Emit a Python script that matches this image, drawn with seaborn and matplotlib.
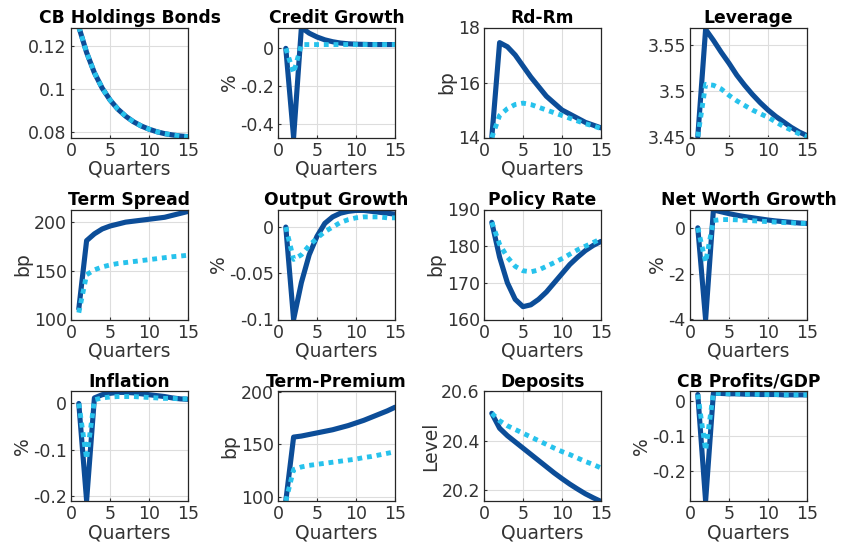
import numpy as np
import pandas as pd
import matplotlib
matplotlib.use("Agg")
import matplotlib.pyplot as plt
import seaborn as sns
from matplotlib.ticker import FuncFormatter

sns.set_style("ticks")
plt.rcParams['font.family'] = ['DejaVu Sans']
plt.rcParams['axes.unicode_minus'] = False

quarters = list(range(1, 16))

### impulse responses (solid = baseline, dotted = alternative) ###
cb_holdings_solid = [0.129, 0.117, 0.1075, 0.1003, 0.0948, 0.0905, 0.0872, 0.0846, 0.0826, 0.0811, 0.0799, 0.079, 0.0784, 0.0779, 0.0776]
cb_holdings_dotted = cb_holdings_solid

credit_solid = [0.0, -0.47, 0.11, 0.08, 0.06, 0.045, 0.035, 0.028, 0.024, 0.022, 0.021, 0.02, 0.02, 0.02, 0.02]
credit_dotted = [0.0, -0.13, 0.02, 0.02, 0.02, 0.02, 0.02, 0.02, 0.02, 0.02, 0.02, 0.02, 0.02, 0.02, 0.02]

rdrm_solid = [14.0, 17.45, 17.3, 17.0, 16.6, 16.2, 15.85, 15.5, 15.25, 15.0, 14.85, 14.7, 14.55, 14.45, 14.35]
rdrm_dotted = [14.0, 14.8, 15.05, 15.2, 15.25, 15.2, 15.1, 15.0, 14.9, 14.8, 14.7, 14.6, 14.5, 14.42, 14.33]

leverage_solid = [3.45, 3.567, 3.555, 3.542, 3.53, 3.517, 3.506, 3.496, 3.487, 3.479, 3.472, 3.466, 3.46, 3.455, 3.451]
leverage_dotted = [3.45, 3.507, 3.506, 3.502, 3.495, 3.489, 3.484, 3.479, 3.475, 3.471, 3.466, 3.461, 3.457, 3.453, 3.45]

term_spread_solid = [111, 181, 188, 193, 196, 198, 200, 201, 202, 203, 204, 205, 207, 209, 211]
term_spread_dotted = [107, 146, 151, 154, 156, 157.5, 158.5, 159.5, 160.5, 161.5, 162.5, 163.5, 164.5, 165.2, 166]

output_solid = [0.0, -0.1, -0.06, -0.03, -0.01, 0.004, 0.011, 0.015, 0.017, 0.018, 0.018, 0.017, 0.016, 0.015, 0.014]
output_dotted = [0.0, -0.035, -0.03, -0.02, -0.012, -0.005, 0.0, 0.005, 0.008, 0.01, 0.011, 0.011, 0.011, 0.01, 0.01]

policy_solid = [186.5, 177, 170, 165.5, 163.5, 164, 165.5, 167.5, 170, 172.5, 175, 177, 178.8, 180.2, 181.3]
policy_dotted = [186.5, 180.5, 177, 174.5, 173.3, 173, 173.5, 174.5, 175.5, 176.6, 177.8, 179, 180, 181, 182]

net_worth_solid = [0.0, -4.0, 0.78, 0.7, 0.62, 0.55, 0.49, 0.44, 0.39, 0.34, 0.3, 0.27, 0.24, 0.21, 0.19]
net_worth_dotted = [0.0, -1.5, 0.32, 0.36, 0.36, 0.35, 0.33, 0.31, 0.29, 0.27, 0.25, 0.23, 0.22, 0.2, 0.19]

inflation_solid = [0.0, -0.21, 0.012, 0.019, 0.022, 0.024, 0.024, 0.023, 0.021, 0.019, 0.017, 0.015, 0.012, 0.01, 0.009]
inflation_dotted = [0.0, -0.12, 0.008, 0.012, 0.014, 0.015, 0.015, 0.015, 0.014, 0.013, 0.012, 0.011, 0.011, 0.01, 0.01]

term_premium_solid = [96, 157, 158, 159.5, 161, 162.5, 164, 166, 168, 170.5, 173, 176, 179, 182, 185.5]
term_premium_dotted = [96, 126, 128.5, 130, 131, 132, 133, 134, 135, 136, 137.5, 138.5, 140, 141.5, 143]

deposits_solid = [20.51, 20.45, 20.42, 20.395, 20.37, 20.345, 20.32, 20.295, 20.27, 20.247, 20.225, 20.205, 20.186, 20.17, 20.155]
deposits_dotted = [20.51, 20.48, 20.46, 20.445, 20.43, 20.415, 20.4, 20.385, 20.37, 20.356, 20.344, 20.33, 20.316, 20.304, 20.29]

cb_profits_solid = [0.02, -0.285, 0.024, 0.023, 0.022, 0.022, 0.021, 0.021, 0.02, 0.02, 0.02, 0.019, 0.019, 0.019, 0.019]
cb_profits_dotted = [0.02, -0.14, 0.024, 0.023, 0.022, 0.022, 0.021, 0.021, 0.02, 0.02, 0.02, 0.019, 0.019, 0.019, 0.019]

titles = ['CB Holdings Bonds', 'Credit Growth', 'Rd-Rm', 'Leverage',
          'Term Spread', 'Output Growth', 'Policy Rate', 'Net Worth Growth',
          'Inflation', 'Term-Premium', 'Deposits', 'CB Profits/GDP']
ylabels = ['', '%', 'bp', '', 'bp', '%', 'bp', '%', '%', 'bp', 'Level', '%']
xlabels = ['Quarters'] * 12
xlabels[3] = ''
solids = [cb_holdings_solid, credit_solid, rdrm_solid, leverage_solid,
          term_spread_solid, output_solid, policy_solid, net_worth_solid,
          inflation_solid, term_premium_solid, deposits_solid, cb_profits_solid]
dotteds = [cb_holdings_dotted, credit_dotted, rdrm_dotted, leverage_dotted,
           term_spread_dotted, output_dotted, policy_dotted, net_worth_dotted,
           inflation_dotted, term_premium_dotted, deposits_dotted, cb_profits_dotted]
ylims = [(0.0772, 0.1287), (-0.47, 0.11), (14, 18), (3.449, 3.569),
         (100, 213), (-0.1, 0.019), (160, 190), (-4, 0.8),
         (-0.211, 0.027), (96, 201), (20.157, 20.6), (-0.285, 0.03)]
yticks = [[0.08, 0.1, 0.12], [-0.4, -0.2, 0], [14, 16, 18], [3.45, 3.5, 3.55],
          [100, 150, 200], [-0.1, -0.05, 0], [160, 170, 180, 190], [-4, -2, 0],
          [-0.2, -0.1, 0], [100, 150, 200], [20.2, 20.4, 20.6], [-0.2, -0.1, 0]]

dark = '#0c4d98'
light = '#27c2ec'

fig = plt.figure(figsize=(8.41, 5.52), dpi=100)
W, H = 841, 552
col_left = [71, 278, 484, 690]
row_bottom = [137.5, 319.5, 501]
aw, ah = 117, 110

for i in range(12):
    r, c = divmod(i, 4)
    ax = fig.add_axes([col_left[c] / W, 1 - row_bottom[r] / H, aw / W, ah / H])
    df = pd.DataFrame({'q': quarters, 'solid': solids[i], 'dotted': dotteds[i]})
    sns.lineplot(data=df, x='q', y='solid', ax=ax, color=dark, lw=3.7)
    sns.lineplot(data=df, x='q', y='dotted', ax=ax, color=light, lw=3.5,
                 dashes=False).lines[-1].set_dashes((1, 1))
    ax.set_xlim(0, 15)
    ax.set_ylim(*ylims[i])
    ax.set_xticks([0, 5, 10, 15])
    ax.set_yticks(yticks[i])
    ax.yaxis.set_major_formatter(FuncFormatter(lambda v, p: '%g' % round(v, 4)))
    ax.grid(True, color='#dddddd', lw=0.8)
    ax.tick_params(direction='in', length=2, labelsize=12.5, colors='#333333', pad=3)
    for s in ax.spines.values():
        s.set_color('#262626')
        s.set_linewidth(0.9)
    ax.set_title(titles[i], fontsize=12.3, fontweight='bold', color='black', pad=3)
    ax.set_xlabel(xlabels[i], fontsize=13.5, color='#333333', labelpad=0)
    ax.set_ylabel(ylabels[i], fontsize=13.5, color='#333333', labelpad=1)

fig.savefig('out.png', dpi=100, facecolor='white')
